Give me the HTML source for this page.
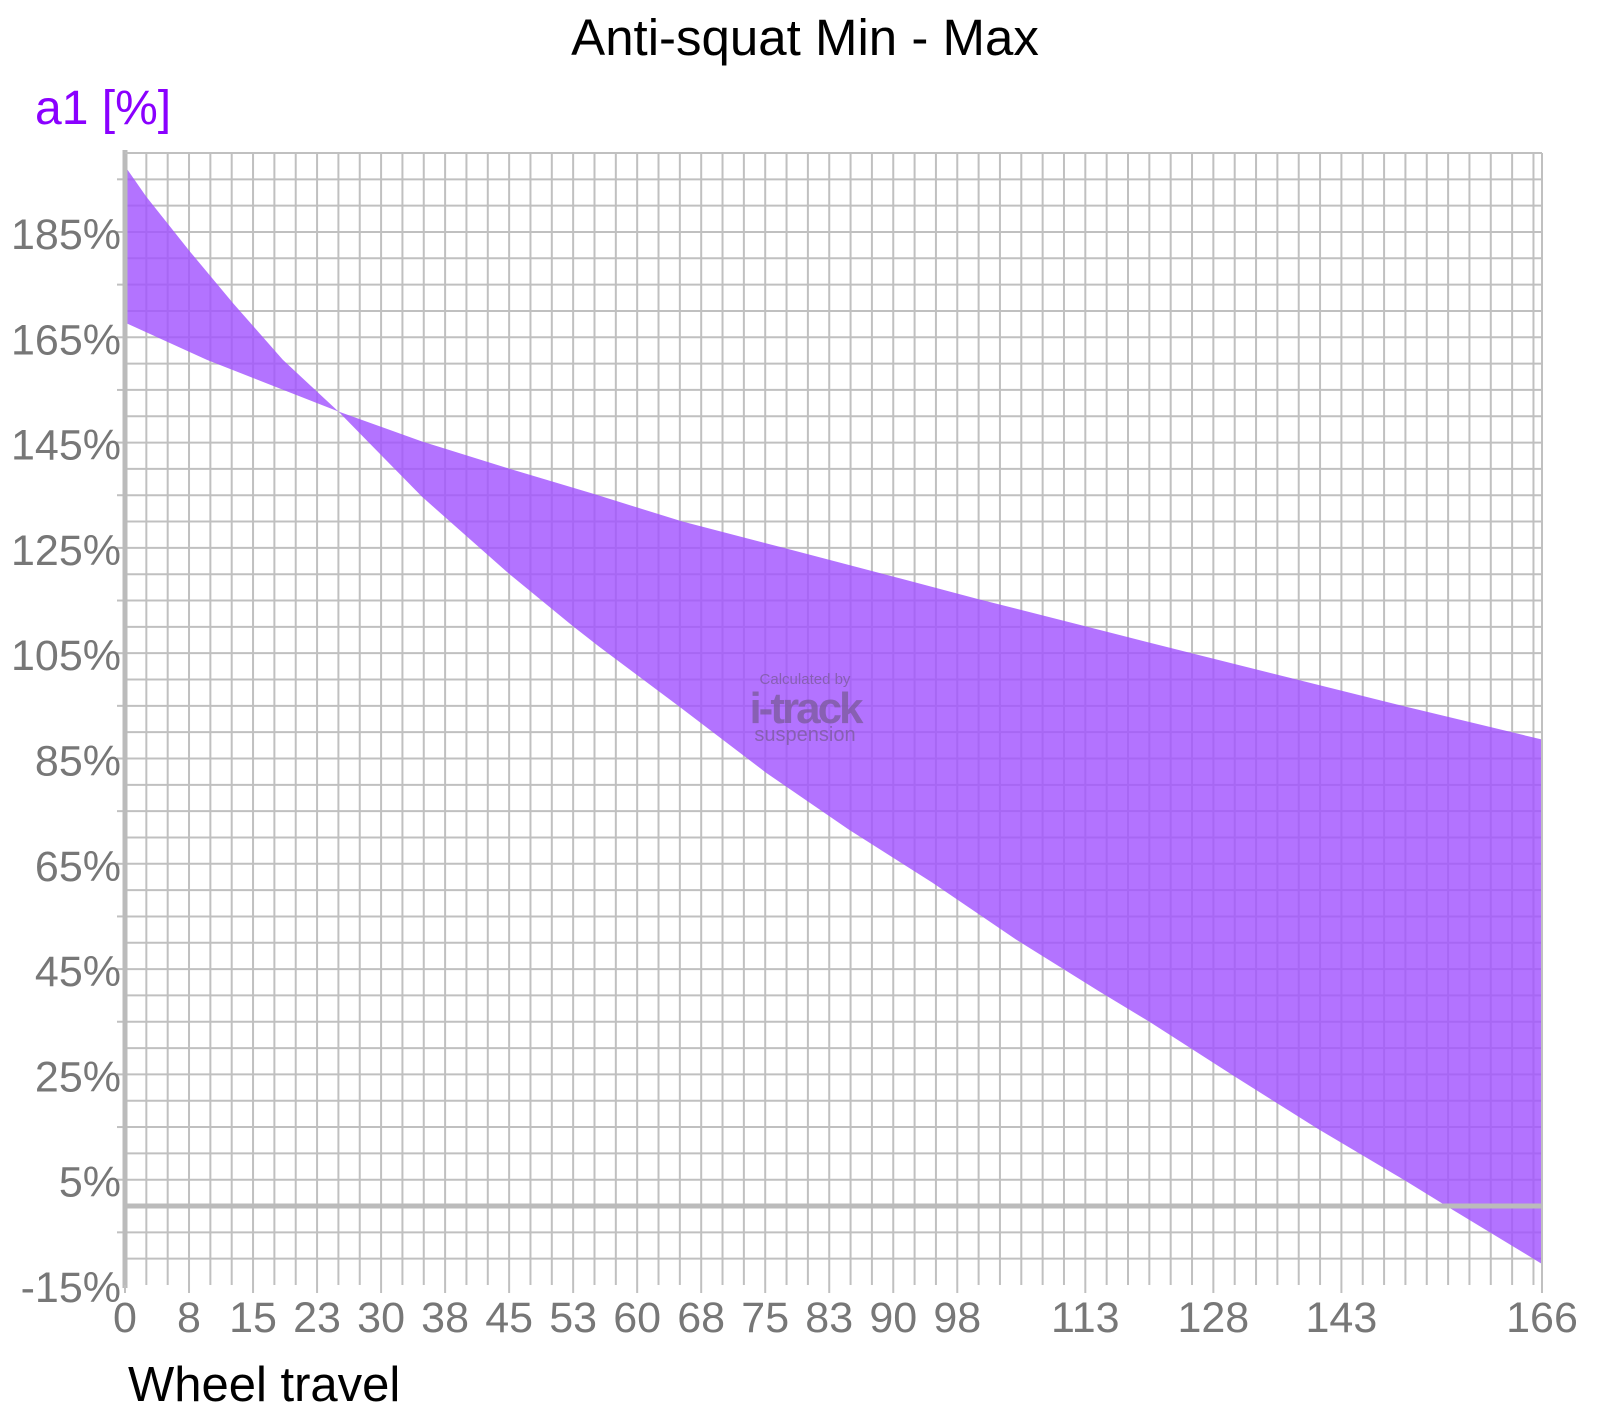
<!DOCTYPE html>
<html><head><meta charset="utf-8"><style>
body{margin:0;background:#fff;}
svg text{font-family:"Liberation Sans",sans-serif;}
</style></head><body>
<svg id="chart" width="1606" height="1419" xmlns="http://www.w3.org/2000/svg">
<text x="805" y="55" text-anchor="middle" font-size="51" fill="#000">Anti-squat Min - Max</text>
<text x="35" y="124" font-size="48" fill="#8a00ff">a1 [%]</text>
<text x="128" y="1401" font-size="49" fill="#000">Wheel travel</text>
<g id="grid"></g><g id="series"></g><g id="axes"></g>
<g fill="#7a5a9a" opacity="0.75" text-anchor="middle">
<text x="805" y="684" font-size="15">Calculated by</text>
<text x="805" y="723" font-size="44" font-weight="bold" letter-spacing="-3">i-track</text>
<text x="805" y="741" font-size="20">suspension</text>
</g>
</svg>
<script>
const xMin=0,xMax=166,yMin=-15,yMax=200;
const L=125,R=1542,T=153,B=1285;
const sx=v=>L+(v-xMin)/(xMax-xMin)*(R-L);
const sy=v=>B-(v-yMin)/(yMax-yMin)*(B-T);
const xTickLabels=["0","8","15","23","30","38","45","53","60","68","75","83","90","98","113","128","143","166"];
const xTickValues=[0,7.5,15,22.5,30,37.5,45,52.5,60,67.5,75,82.5,90,97.5,112.5,127.5,142.5,166];
const yTickValues=[-15,5,25,45,65,85,105,125,145,165,185];
const seriesAX=[0,9.6,25,34.8,44.9,55,65.3,77.4,90.8,99.9,124.9,149.9,166];
const seriesAY=[167.8,160.7,150.9,145.2,140.1,135.2,130.0,124.9,119.2,115.3,105.0,94.9,88.6];
const seriesBX=[0,2.5,7.6,12.7,18.5,25,34.8,44.9,52.5,55.5,64.9,75.1,84.8,94.6,104.4,114.1,120.1,130,139.7,149.9,154.8,166];
const seriesBY=[197.5,191.7,181.3,171.4,160.7,150.9,134.7,120.2,110.1,106.3,94.9,82.3,71.5,61.4,50.6,40.8,34.9,24.6,14.7,4.9,0,-11];
const NS="http://www.w3.org/2000/svg";
function mk(tag,attrs,parent){const e=document.createElementNS(NS,tag);for(const k in attrs)e.setAttribute(k,attrs[k]);parent.appendChild(e);return e;}
const grid=document.getElementById('grid'),axes=document.getElementById('axes'),ser=document.getElementById('series');
for(let v=2.5;v<=165;v+=2.5){
 const l=mk('line',{x1:sx(v),x2:sx(v),y1:T,y2:B,stroke:'#c0c0c0','stroke-width':2},grid);
 
 
}
for(let v=-10;v<=200;v+=5){
 const l=mk('line',{x1:L,x2:R,y1:sy(v),y2:sy(v),stroke:'#c0c0c0','stroke-width':2},grid);
 
 
}
for(let v=-5;v<=195;v+=10){
 const t=mk('line',{x1:L-8,x2:L,y1:sy(v),y2:sy(v),stroke:'#c0c0c0','stroke-width':2},axes);
 
 
}
const pts=[];
seriesAX.forEach((x,i)=>pts.push(sx(x)+','+sy(seriesAY[i])));
for(let i=seriesBX.length-1;i>=0;i--)pts.push(sx(seriesBX[i])+','+sy(seriesBY[i]));
const poly=mk('polygon',{points:pts.join(' '),fill:'rgb(160,80,255)','fill-opacity':0.8},ser);


const z=mk('line',{x1:L,x2:R,y1:sy(0),y2:sy(0),stroke:'#bbb','stroke-width':5},axes);


const ya=mk('line',{x1:L,x2:L,y1:T-3,y2:B+3,stroke:'#bbb','stroke-width':5},axes);


const rb=mk('line',{x1:R,x2:R,y1:T,y2:B,stroke:'#c0c0c0','stroke-width':2},axes);


const tb=mk('line',{x1:L,x2:R,y1:T,y2:T,stroke:'#c0c0c0','stroke-width':2},axes);


yTickValues.forEach(v=>{
 const t=mk('text',{x:L-4,y:sy(v)+17,'text-anchor':'end','font-size':43,fill:'#777'},axes);
 t.textContent=v+'%';
 
 
});
xTickValues.forEach((v,i)=>{
 const tk=mk('line',{x1:sx(v),x2:sx(v),y1:B,y2:B+8,stroke:'#c0c0c0','stroke-width':2},axes);
 
 
 const t=mk('text',{x:sx(v),y:B+47,'text-anchor':i==0?'start':'middle','font-size':43,fill:'#777'},axes);
 if(i==0)t.setAttribute('x',sx(v)-12);
 t.textContent=xTickLabels[i];
 
 
});
</script>
</body></html>
